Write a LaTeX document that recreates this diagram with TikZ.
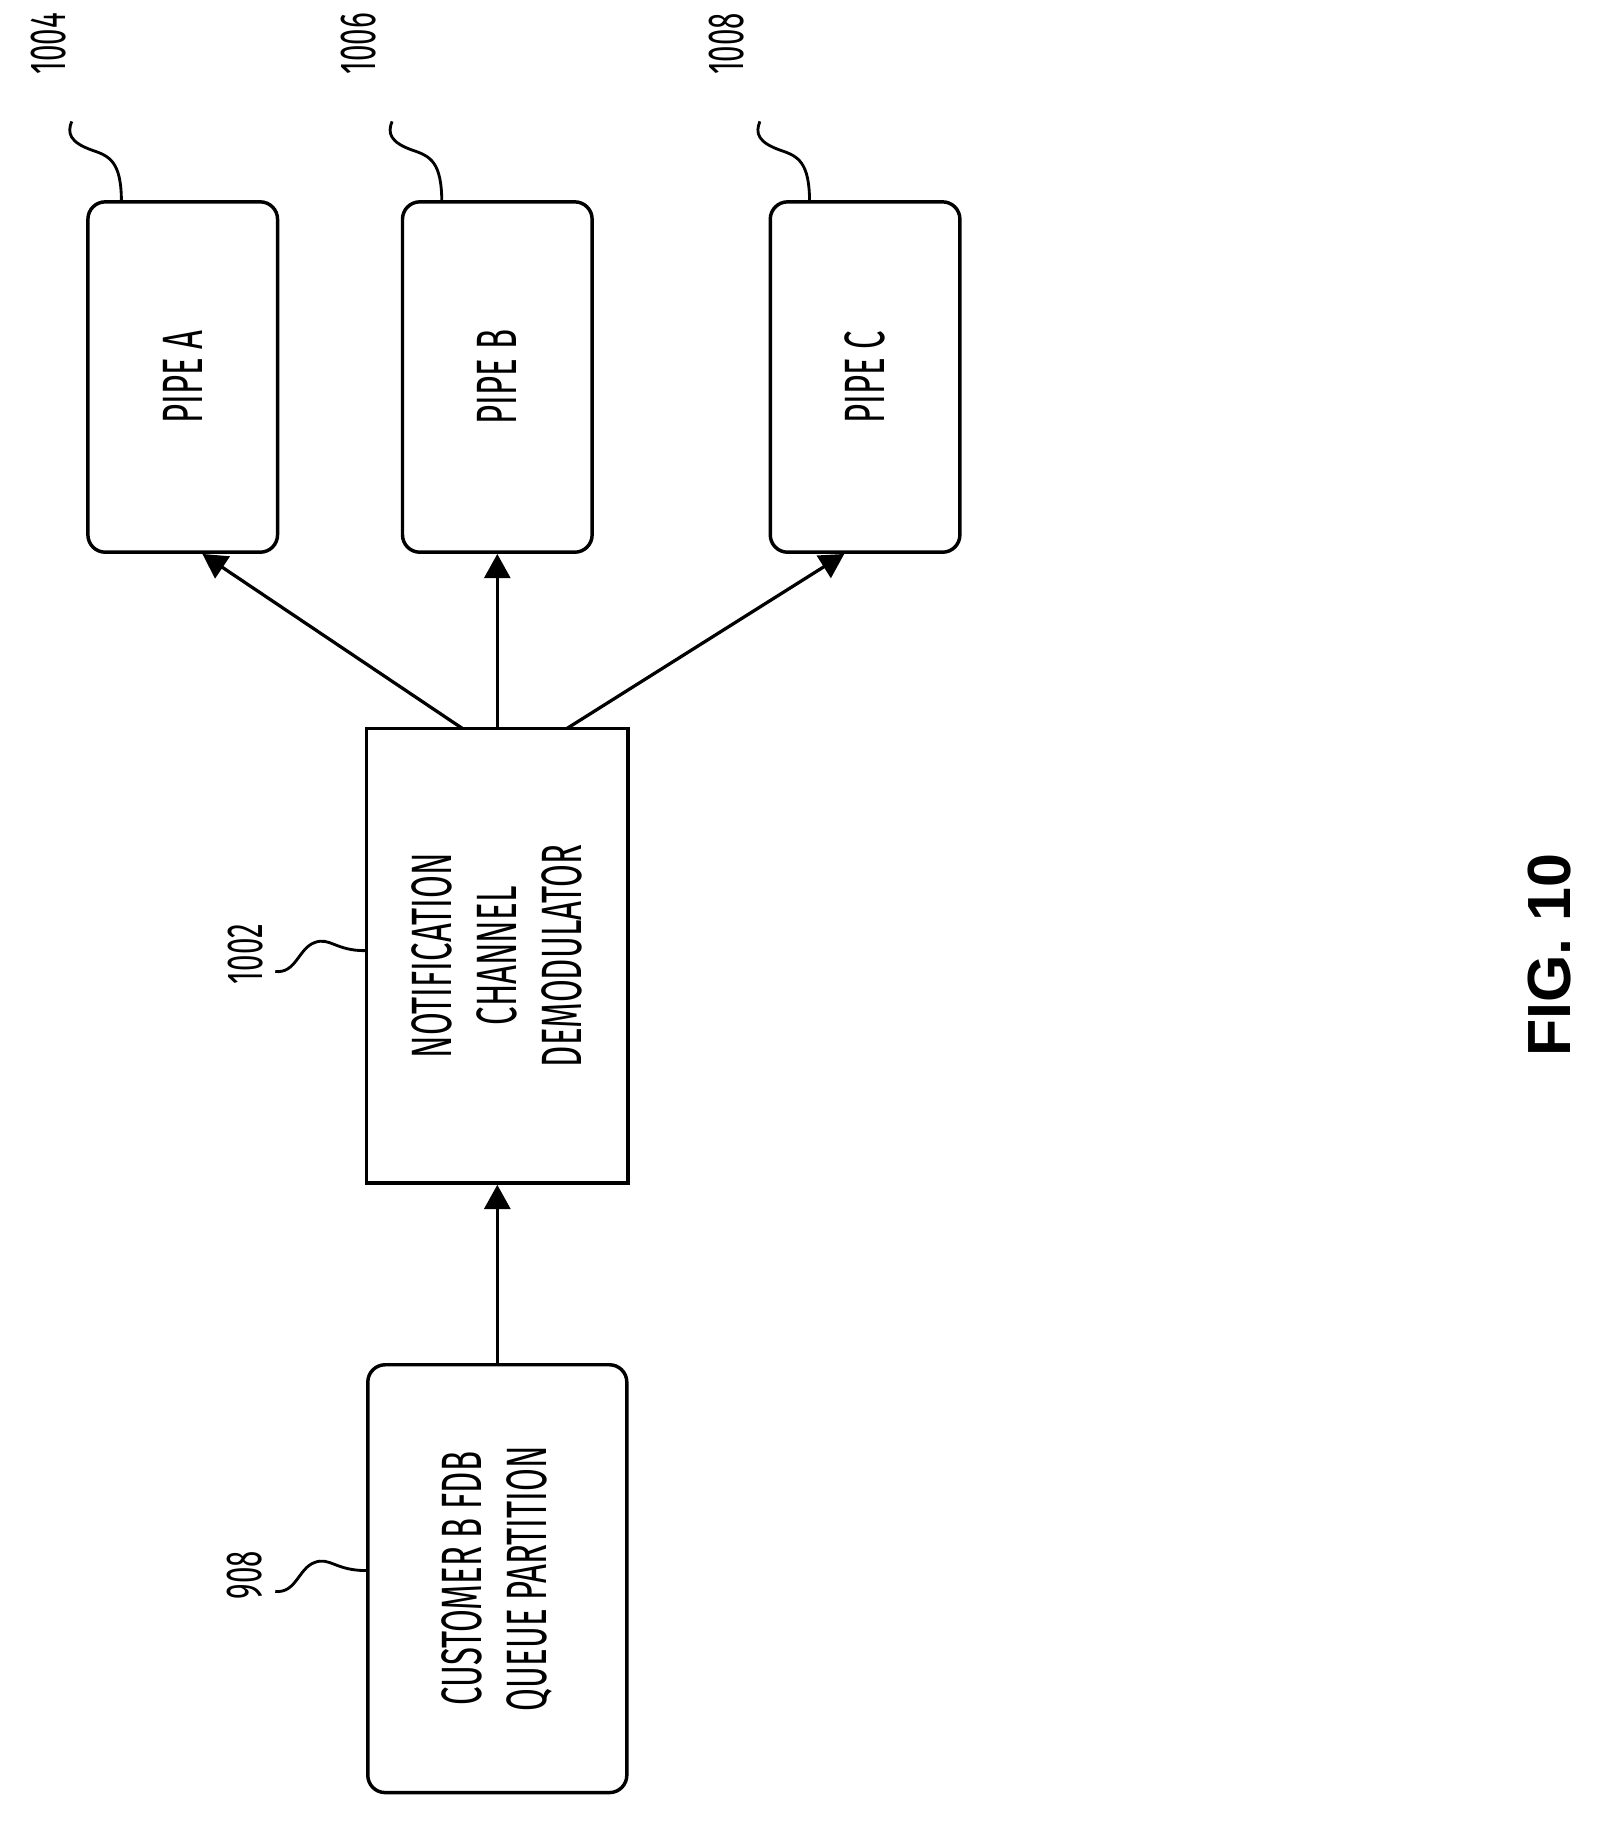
\documentclass[tikz,border=0pt]{standalone}
\usepackage{fontspec}
\setmainfont{Fira Sans}
\newfontfamily\condf[FakeStretch=0.58]{Fira Sans}
\newfontfamily\boldf{Liberation Sans}
\usetikzlibrary{arrows.meta}
\begin{document}
\begin{tikzpicture}[x=0.02cm,y=-0.02cm,
  box/.style={draw,line width=1.7pt,inner sep=0pt},
  rbox/.style={box,rounded corners=0.3cm},
  txt/.style={rotate=90,align=center,font=\condf\fontsize{28}{32}\selectfont},
  num/.style={rotate=90,font=\condf\fontsize{25}{28}\selectfont},
  arr/.style={line width=1.6pt,-{Triangle[length=0.42cm,width=0.45cm]}},
  sq/.style={line width=1.4pt}]
\useasboundingbox (0,0) rectangle (1385,1578);
\node[rbox,minimum width=3.28cm,minimum height=6.06cm] (pa) at (158,326) {};
\node[rbox,minimum width=3.28cm,minimum height=6.06cm] (pb) at (430,326) {};
\node[rbox,minimum width=3.28cm,minimum height=6.06cm] (pc) at (748,326) {};
\node[box,minimum width=4.52cm,minimum height=7.86cm] (dm) at (430,826.5) {};
\node[rbox,minimum width=4.48cm,minimum height=7.4cm] (cu) at (430,1365) {};
\node[txt] (ta) at (pa.center) {PIPE A};
\node[txt] (tb) at (pb.center) {PIPE B};
\node[txt] (tc) at (pc.center) {PIPE C};
\node[txt] (td) at (dm.center) {NOTIFICATION\\CHANNEL\\DEMODULATOR};
\node[txt] (tcu) at (cu.center) {CUSTOMER B FDB\\QUEUE PARTITION};
\coordinate (d1) at (400,630);
\coordinate (d3) at (490,630);
\draw[arr] (d1) -- (pa.south -| 175,0);
\draw[arr] (dm.north) -- (pb.south);
\draw[arr] (d3) -- (pc.south -| 730,0);
\draw[arr] (cu.north) -- (dm.south);
\node[num] (n1004) at (42,38) {1004};
\node[num] (n1006) at (310,38) {1006};
\node[num] (n1008) at (628,38) {1008};
\node[num] (n1002) at (212,825) {1002};
\node[num] (n908) at (212,1362) {908};
\coordinate (s1) at (105,175); \coordinate (s2) at (382,175); \coordinate (s3) at (700,175);
\draw[sq] (s1) .. controls (105,140) and (95,135) .. (80,130) .. controls (60,123) and (58,115) .. (62,105);
\draw[sq] (s2) .. controls (382,140) and (372,135) .. (357,130) .. controls (337,123) and (335,115) .. (339,105);
\draw[sq] (s3) .. controls (700,140) and (690,135) .. (675,130) .. controls (655,123) and (653,115) .. (657,105);
\draw[sq] (dm.west |- 0,822) .. controls (290,822) and (285,810) .. (272,815) .. controls (258,820) and (256,842) .. (238,840);
\draw[sq] (cu.west |- 0,1358) .. controls (290,1358) and (285,1346) .. (272,1351) .. controls (258,1356) and (256,1378) .. (238,1376);
\node[rotate=90,font=\boldf\bfseries\fontsize{30}{32}\selectfont] (fig) at (1340,826) {FIG. 10};
\end{tikzpicture}
\end{document}
